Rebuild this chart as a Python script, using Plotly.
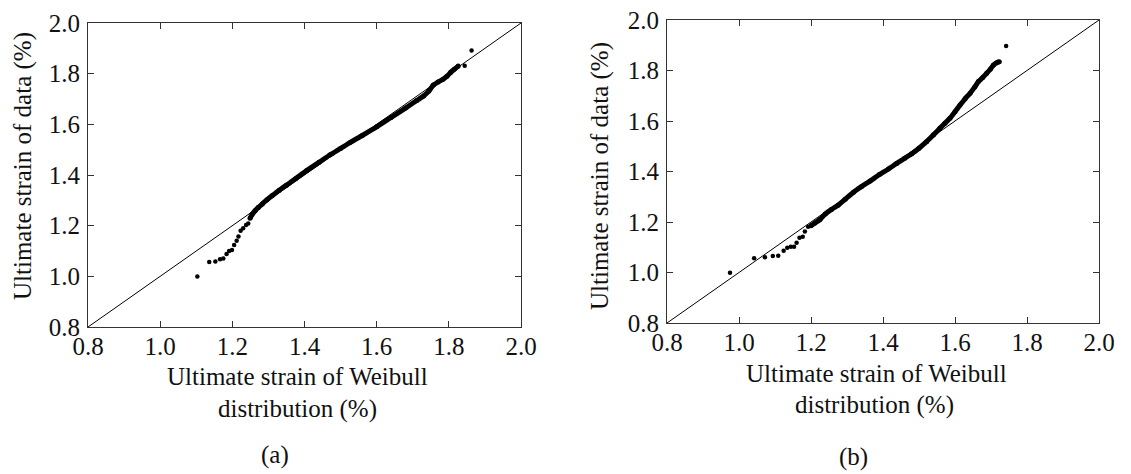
import plotly.graph_objects as go

# ---- Panel (a): Q-Q points, ultimate strain (%) ----
a_low_x = [1.103, 1.136, 1.153, 1.166, 1.175, 1.184, 1.191, 1.199, 1.205, 1.212, 1.217, 1.223, 1.230, 1.238, 1.244]
a_low_y = [0.999, 1.057, 1.059, 1.067, 1.070, 1.088, 1.100, 1.104, 1.124, 1.140, 1.157, 1.180, 1.190, 1.203, 1.209]
a_band_x = [1.249, 1.255, 1.263, 1.272, 1.283, 1.295, 1.310, 1.330, 1.350, 1.375, 1.406, 1.440, 1.470,
            1.500, 1.526, 1.560, 1.600, 1.640, 1.680, 1.710, 1.730, 1.745, 1.757, 1.770, 1.784, 1.795,
            1.805, 1.815, 1.826]
a_band_y = [1.229, 1.245, 1.259, 1.272, 1.286, 1.301, 1.318, 1.340, 1.360, 1.385, 1.418, 1.450, 1.479,
            1.505, 1.528, 1.556, 1.590, 1.627, 1.664, 1.693, 1.712, 1.732, 1.755, 1.767, 1.778, 1.790,
            1.805, 1.817, 1.830]
a_high_x = [1.844, 1.863]
a_high_y = [1.831, 1.891]

# ---- Panel (b) ----
b_low_x = [0.975, 1.042, 1.072, 1.094, 1.109, 1.124, 1.134, 1.144, 1.153, 1.160, 1.168, 1.177, 1.183, 1.192]
b_low_y = [0.999, 1.056, 1.060, 1.065, 1.066, 1.086, 1.098, 1.102, 1.102, 1.118, 1.138, 1.142, 1.162, 1.181]
b_band_x = [1.200, 1.210, 1.225, 1.240, 1.257, 1.275, 1.295, 1.318, 1.340, 1.364, 1.390, 1.415, 1.438,
            1.460, 1.480, 1.500, 1.521, 1.540, 1.558, 1.572, 1.586, 1.600, 1.614, 1.628, 1.642, 1.655,
            1.665, 1.677, 1.688, 1.698, 1.707, 1.715, 1.723]
b_band_y = [1.185, 1.195, 1.210, 1.232, 1.250, 1.266, 1.290, 1.318, 1.340, 1.362, 1.388, 1.410, 1.432,
            1.452, 1.470, 1.492, 1.518, 1.545, 1.571, 1.591, 1.611, 1.637, 1.663, 1.688, 1.710, 1.735,
            1.756, 1.772, 1.789, 1.805, 1.822, 1.830, 1.835]
b_high_x = [1.742]
b_high_y = [1.897]

# Reference line y = x and tick values
ref_line = [0.8, 2.0]
tick_vals = [0.8, 1.0, 1.2, 1.4, 1.6, 1.8, 2.0]
tick_text = ["0.8", "1.0", "1.2", "1.4", "1.6", "1.8", "2.0"]

W, H = 1131, 474
FONT = "Liberation Serif, Times New Roman, serif"
INK = "#111111"

fig = go.Figure()


def add_panel(xa, ya, low_x, low_y, band_x, band_y, high_x, high_y):
    fig.add_trace(go.Scatter(x=ref_line, y=ref_line, mode="lines",
                             line=dict(color="black", width=1),
                             xaxis=xa, yaxis=ya, hoverinfo="skip"))
    fig.add_trace(go.Scatter(x=band_x, y=band_y, mode="lines+markers",
                             line=dict(color="black", width=5, shape="spline", smoothing=0.6),
                             marker=dict(color="black", size=5),
                             xaxis=xa, yaxis=ya))
    fig.add_trace(go.Scatter(x=low_x + high_x, y=low_y + high_y, mode="markers",
                             marker=dict(color="black", size=4.5),
                             xaxis=xa, yaxis=ya))


add_panel("x", "y", a_low_x, a_low_y, a_band_x, a_band_y, a_high_x, a_high_y)
add_panel("x2", "y2", b_low_x, b_low_y, b_band_x, b_band_y, b_high_x, b_high_y)


def px_x(p):
    return p / W


def px_y(p):
    return 1 - p / H


axis_common = dict(range=[0.8, 2.0], tickvals=tick_vals, ticktext=tick_text,
                   ticks="inside", ticklen=6, tickwidth=1, tickcolor="#333333",
                   showline=True, linewidth=1, linecolor="#333333", mirror="ticks",
                   showgrid=False, zeroline=False, automargin=False,
                   tickfont=dict(family=FONT, size=25, color=INK))

fig.update_layout(
    template="none",
    width=W, height=H,
    margin=dict(l=0, r=0, t=0, b=0, autoexpand=False),
    paper_bgcolor="white", plot_bgcolor="white",
    showlegend=False,
    xaxis=dict(domain=[px_x(88), px_x(521)], anchor="y", **axis_common),
    yaxis=dict(domain=[px_y(327), px_y(23)], anchor="x", **axis_common),
    xaxis2=dict(domain=[px_x(667), px_x(1099)], anchor="y2", **axis_common),
    yaxis2=dict(domain=[px_y(323), px_y(20)], anchor="x2", **axis_common),
)
fig.update_xaxes(ticklabelstandoff=-3)
fig.update_yaxes(ticklabelstandoff=2)

labels = [
    ("Ultimate strain of data (%)", 23, 166, -90),
    ("Ultimate strain of data (%)", 600, 176, -90),
    ("Ultimate strain of Weibull", 297, 376, 0),
    ("distribution (%)", 297, 409, 0),
    ("Ultimate strain of Weibull", 876, 373, 0),
    ("distribution (%)", 874, 405, 0),
    ("(a)", 275, 455, 0),
    ("(b)", 853, 457, 0),
]
for text, x, y, ang in labels:
    fig.add_annotation(text=text, x=px_x(x), y=px_y(y), xref="paper", yref="paper",
                       xanchor="center", yanchor="middle", showarrow=False,
                       textangle=ang, font=dict(family=FONT, size=25, color=INK))

fig.write_html("out.html")
